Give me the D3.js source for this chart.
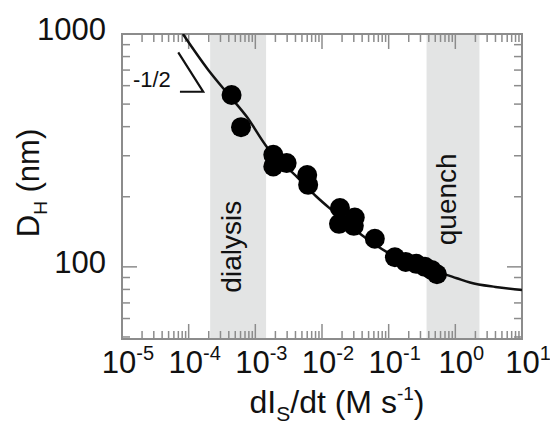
<!DOCTYPE html>
<html>
<head>
<meta charset="utf-8">
<script src="https://cdn.jsdelivr.net/npm/d3@7"></script>
<style>
  html, body { margin: 0; padding: 0; background: #fff; }
  svg { display: block; }
  text { font-family: "Liberation Sans", Arial, Helvetica, sans-serif; fill: #111; }
</style>
</head>
<body>
<svg id="chart" width="550" height="425"></svg>
<script>
// ---- data ----
const rateData = [4.4e-4, 6.1e-4, 1.86e-3, 1.86e-3, 2.95e-3, 6.0e-3, 6.2e-3,
                  1.86e-2, 1.8e-2, 3.1e-2, 3.0e-2, 6.2e-2,
                  0.124, 0.18, 0.26, 0.35, 0.44, 0.53];
const diameterData = [547, 398, 303, 270, 279, 248, 225,
                      179, 153, 163, 150, 132,
                      110, 105, 103, 100, 97, 93];

// fitted curve
const fitRate = [8.2e-5, 1.97e-4, 4.4e-4, 7.4e-4, 1.48e-3, 4.17e-3, 8.3e-3, 1.48e-2,
                 3.94e-2, 9.3e-2, 0.263, 1.05, 1.66, 4.0, 10];
const fitDiameter = [1000, 701, 530, 442, 328, 244, 200, 173,
                     137, 116, 102, 89.4, 85.7, 82, 79.6];

// shaded regions
const bandNames = ["dialysis", "quench"];
const bandStart = [2.1e-4, 0.37];
const bandEnd = [1.45e-3, 2.3];
const bandLabelD = [122, 195];   // label centre (data units, y)

// axis ticks
const xTickExponents = [-5, -4, -3, -2, -1, 0, 1];
const yMajorTicks = [100, 1000];
const yTickLabels = ["100", "1000"];

// slope indicator (data coords)
const slopeRate = [6.98e-5, 1.65e-4, 7.4e-5];
const slopeD = [834, 565, 565];
const slopeLabel = "-1/2";

// ---- layout ----
const L = 122, R = 522, T = 34, B = 339;
const svg = d3.select("#chart");
const x = d3.scaleLog().domain([1e-5, 10]).range([L, R]);
const y = d3.scaleLog().domain([49, 1000]).range([B, T]);
const grey = "#8c8c8c";

// bands
svg.append("g").selectAll("rect").data(bandNames).join("rect")
  .attr("x", (d, i) => x(bandStart[i]))
  .attr("width", (d, i) => x(bandEnd[i]) - x(bandStart[i]))
  .attr("y", T).attr("height", B - T)
  .attr("fill", "#e3e4e4");

// band labels
svg.append("g").selectAll("text").data(bandNames).join("text")
  .attr("transform", (d, i) => {
    const cx = (x(bandStart[i]) + x(bandEnd[i])) / 2 + 3;
    return `translate(${cx},${y(bandLabelD[i])}) rotate(-90)`;
  })
  .attr("text-anchor", "middle")
  .attr("font-size", 28)
  .text(d => d);

// ticks
const xMinor = [], xMajor = [];
xTickExponents.forEach(e => {
  xMajor.push(Math.pow(10, e));
  if (e < 1) for (let k = 2; k <= 9; k++) xMinor.push(k * Math.pow(10, e));
});
const yMinor = [50, 60, 70, 80, 90, 200, 300, 400, 500, 600, 700, 800, 900];
const tickG = svg.append("g").attr("stroke", grey).attr("stroke-width", 1.5);
const majLen = 15, minLen = 8;
function xt(vals, len) {
  vals.forEach(v => {
    tickG.append("line").attr("x1", x(v)).attr("x2", x(v)).attr("y1", B).attr("y2", B - len);
    tickG.append("line").attr("x1", x(v)).attr("x2", x(v)).attr("y1", T).attr("y2", T + len);
  });
}
function yt(vals, len) {
  vals.forEach(v => {
    tickG.append("line").attr("y1", y(v)).attr("y2", y(v)).attr("x1", L).attr("x2", L + len);
    tickG.append("line").attr("y1", y(v)).attr("y2", y(v)).attr("x1", R).attr("x2", R - len);
  });
}
xt(xMajor, majLen); xt(xMinor, minLen);
yt(yMajorTicks, majLen); yt(yMinor, minLen);

// frame
svg.append("rect").attr("x", L).attr("y", T).attr("width", R - L).attr("height", B - T)
  .attr("fill", "none").attr("stroke", grey).attr("stroke-width", 2);

// fit curve
svg.append("defs").append("clipPath").attr("id", "clip")
  .append("rect").attr("x", L).attr("y", T).attr("width", R - L).attr("height", B - T);
const line = d3.line().x((d, i) => x(fitRate[i])).y((d, i) => y(fitDiameter[i])).curve(d3.curveMonotoneX);
svg.append("path").datum(fitRate).attr("d", line).attr("clip-path", "url(#clip)")
  .attr("fill", "none").attr("stroke", "#111").attr("stroke-width", 2.5);

// points
svg.append("g").selectAll("circle").data(rateData).join("circle")
  .attr("cx", (d, i) => x(d)).attr("cy", (d, i) => y(diameterData[i]))
  .attr("r", 10).attr("fill", "#000");

// slope indicator
const sl = d3.line().x((d, i) => x(slopeRate[i])).y((d, i) => y(slopeD[i]));
svg.append("path").datum(slopeRate).attr("d", sl)
  .attr("fill", "none").attr("stroke", "#111").attr("stroke-width", 2.2);
svg.append("text").attr("x", x(slopeRate[2]) - 47).attr("y", y(slopeD[2]) - 5)
  .attr("font-size", 22).text(slopeLabel);

// y tick labels
svg.append("g").selectAll("text").data(yMajorTicks).join("text")
  .attr("x", L - 16).attr("y", d => y(d) + 6)
  .attr("text-anchor", "end").attr("font-size", 31)
  .text((d, i) => yTickLabels[i]);

// x tick labels (10^n)
const xl = svg.append("g").selectAll("text").data(xTickExponents).join("text")
  .attr("x", d => x(Math.pow(10, d)) + 6).attr("y", 373)
  .attr("text-anchor", "middle").attr("font-size", 31);
xl.append("tspan").text("10");
xl.append("tspan").attr("font-size", 20).attr("dy", -13).text(d => String(d));

// axis titles
const xt2 = svg.append("text").attr("x", 337).attr("y", 413)
  .attr("text-anchor", "middle").attr("font-size", 32);
xt2.append("tspan").text("dI");
xt2.append("tspan").attr("font-size", 21).attr("dy", 8).text("S");
xt2.append("tspan").attr("dy", -8).text("/dt (M s");
xt2.append("tspan").attr("font-size", 19).attr("dy", -13).text("-1");
xt2.append("tspan").attr("dy", 13).text(")");

const yt2 = svg.append("text").attr("transform", "translate(39,183) rotate(-90)")
  .attr("text-anchor", "middle").attr("font-size", 31);
yt2.append("tspan").text("D");
yt2.append("tspan").attr("font-size", 19).attr("dy", 8).text("H");
yt2.append("tspan").attr("dy", -8).text(" (nm)");
</script>
</body>
</html>
